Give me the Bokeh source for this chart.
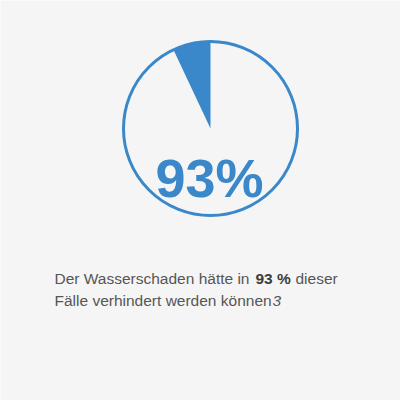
import math
from bokeh.plotting import figure
from bokeh.models import Range1d
from bokeh.core.properties import value
from bokeh.embed import file_html
from bokeh.resources import INLINE

# data
share_prevented = 93          # percent
share_label = "93%"
caption_line1 = ["Der Wasserschaden hätte in ", "93 %", " dieser"]
caption_line2 = ["Fälle verhindert werden können", "3"]

BLUE = "#3a87c9"
BG = "#f5f5f5"
W = H = 400

p = figure(width=W, height=H, output_backend="svg", toolbar_location=None,
           x_range=Range1d(0, W), y_range=Range1d(400 - H, 400),
           min_border=0, background_fill_color=BG, border_fill_color=BG)
p.axis.visible = False
p.grid.visible = False
p.outline_line_color = None

cx, cy, r = 210, 400 - 128, 87
rest = (100 - share_prevented) / 100 * 2 * math.pi
p.wedge(x=[cx], y=[cy], radius=r, start_angle=math.pi / 2,
        end_angle=math.pi / 2 + rest, direction="anticlock",
        fill_color=BLUE, line_color=None)
p.circle(x=[cx], y=[cy], radius=r, fill_color=None, line_color=BLUE, line_width=3)

p.text(x=[209], y=[400 - 177], text=[share_label], text_align="center",
       text_baseline="alphabetic", text_font=value("Liberation Sans"),
       text_font_style="bold", text_font_size="54px", text_color=BLUE)

fs = "15.5px"
font = value("Liberation Sans")
y1, y2 = 400 - 278, 400 - 300
p.text(x=[54], y=[y1], text=[caption_line1[0]], text_font=font, text_font_size=fs,
       text_color="#555555", text_baseline="alphabetic")
p.text(x=[255], y=[y1], text=[caption_line1[1]], text_font=font, text_font_size=fs,
       text_font_style="bold", text_color="#3c3c3c", text_baseline="alphabetic")
p.text(x=[295], y=[y1], text=[caption_line1[2]], text_font=font, text_font_size=fs,
       text_color="#555555", text_baseline="alphabetic")
p.text(x=[54], y=[y2], text=[caption_line2[0]], text_font=font, text_font_size=fs,
       text_color="#555555", text_baseline="alphabetic")
p.text(x=[272], y=[y2], text=[caption_line2[1]], text_font=font, text_font_size=fs,
       text_font_style="italic", text_color="#555555", text_baseline="alphabetic")

open("out.html", "w").write(file_html(p, INLINE))
